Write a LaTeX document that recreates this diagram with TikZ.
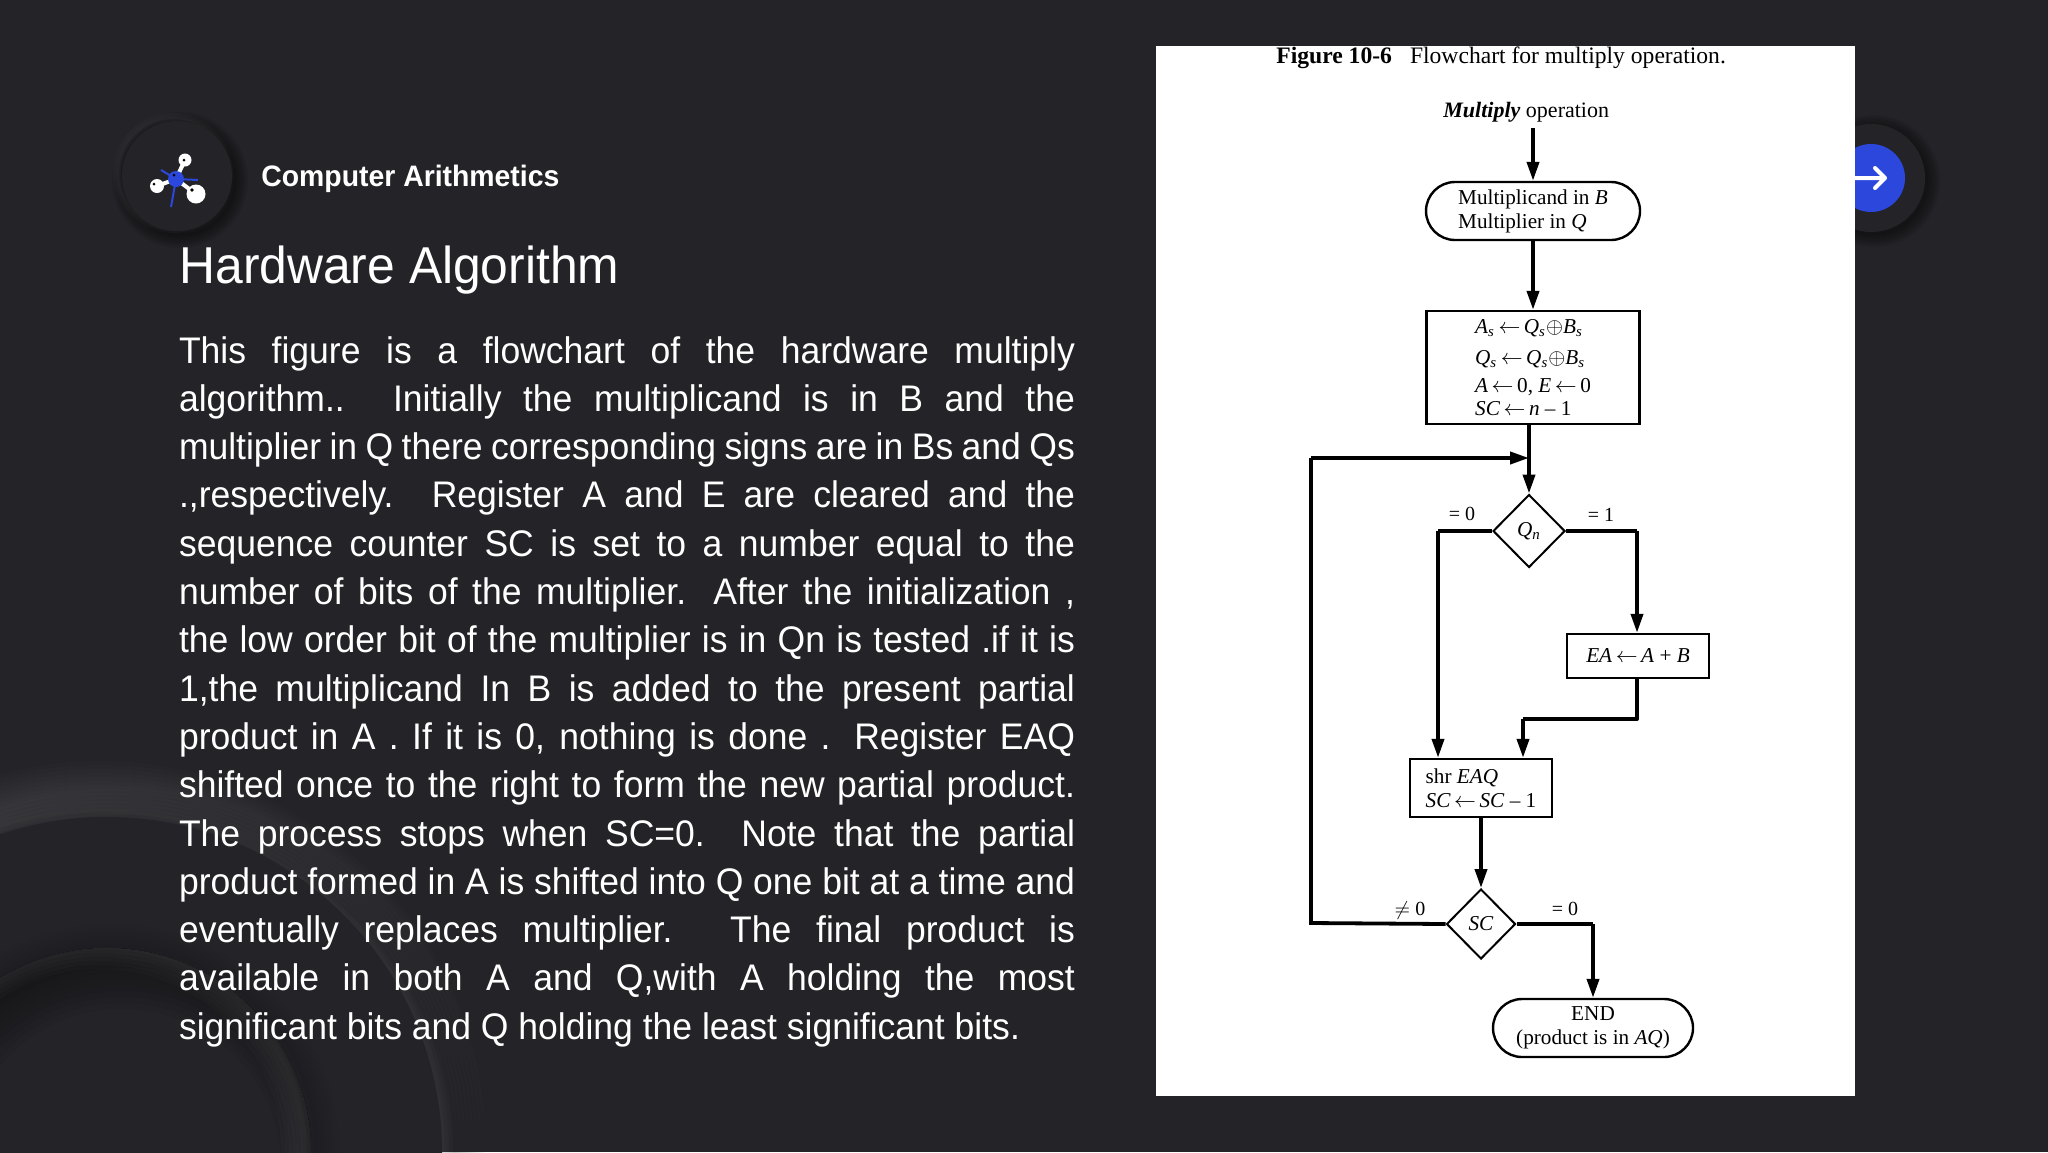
\documentclass[tikz,border=0pt]{standalone}
\usepackage{fontspec}
\usetikzlibrary{shapes.geometric,shapes.misc,arrows.meta}
\setmainfont{Liberation Serif}
\newfontfamily\bodyf[FakeStretch=0.96]{Liberation Sans}
\definecolor{bgc}{HTML}{242327}
\definecolor{bluec}{HTML}{2B47DC}
\tikzset{
  boxn/.style={draw=black,line width=1.2pt,fill=white,inner sep=0pt,align=left,font=\fontsize{10.6}{12}\selectfont},
  termn/.style={boxn,rounded rectangle,rounded rectangle arc length=180},
  decn/.style={draw=black,line width=1pt,fill=white,diamond,aspect=1,inner sep=0pt,font=\fontsize{10.6}{12}\selectfont},
  flow/.style={line width=1.9pt,-{Stealth[length=9.5pt,width=6pt,inset=0pt]}},
  plain/.style={line width=1.9pt},
  lab/.style={anchor=base,inner sep=0pt,font=\fontsize{10}{12}\selectfont},
  line/.style={anchor=base west,inner sep=0pt,text=white,font=\bodyf\fontsize{18.5}{22}\selectfont}
}
\newcommand{\la}{\,$\leftarrow$\,}
\newcommand{\sbs}{$_{\mathit{s}}$}
\begin{document}
\begin{tikzpicture}[x=0.5pt,y=-0.5pt]
\useasboundingbox (0,0) rectangle (2048,1152);
\fill[bgc] (0,0) rectangle (2048,1152);
% background shapes
\begin{scope}
\clip (0,700) rectangle (700,1152);
\foreach \w in {4,12,...,100}{\draw[white,opacity=0.011,line width=\w*0.5pt] (100,1146) circle[radius=335];}
\foreach \w in {4,12,...,60}{\draw[black,opacity=0.03,line width=\w*0.5pt] (120,1156) circle[radius=335];}
\fill[bgc] (107,1152) circle[radius=335];
\begin{scope}
\clip (107,1152) circle[radius=204];
\foreach \w in {6,18,...,90}{\draw[black,opacity=0.035,line width=\w*0.5pt] (122,1168) circle[radius=204];}
\foreach \w in {6,14,...,50}{\draw[white,opacity=0.015,line width=\w*0.5pt] (100,1150) circle[radius=204];}
\end{scope}
\foreach \w in {4,12,...,44}{\draw[black,opacity=0.02,line width=\w*0.5pt] (111,1152) circle[radius=206];}
\end{scope}
% icon disc
\foreach \w in {2,6,...,26}{\draw[black,opacity=0.07,line width=\w*0.5pt] (180,180) circle[radius=55];}
\foreach \w in {2,6,...,10}{\draw[white,opacity=0.02,line width=\w*0.5pt] (173,173) circle[radius=55];}
\fill[bgc] (177,176) circle[radius=55];
\draw[white,line width=2pt] (176,179)--(185,160) (176,179)--(157,186) (176,179)--(196,194);
\draw[bluec,line width=1pt] (176,179)--(161,170) (176,179)--(198,180) (176,179)--(171,207);
\fill[bluec] (176,179) circle[radius=8];
\fill[white] (185,160) circle[radius=6.5] (157,186) circle[radius=7] (196,194) circle[radius=9.5];
\fill[black] (174,175) circle[radius=1.5] (184,160) circle[radius=1.5] (154,184) circle[radius=1.5] (192,190) circle[radius=1.8];
% next button
\foreach \w in {2,6,...,26}{\draw[black,opacity=0.07,line width=\w*0.5pt] (1874,181) circle[radius=53];}
\fill[bgc] (1871,178) circle[radius=54];
\fill[bluec] (1871,178) circle[radius=34];
\draw[white,line width=2pt,line cap=round,line join=round] (1840,178)--(1884,178) (1875,168)--(1885,178)--(1875,188);
% heading and text
\node[anchor=base west,inner sep=0pt,text=white] (hd) at (261,186) {\resizebox{149pt}{!}{\bodyf\bfseries\fontsize{14}{16}\selectfont Computer Arithmetics}};
\node[anchor=base west,inner sep=0pt,text=white] (ttl) at (179,283) {\resizebox{220pt}{!}{\bodyf\fontsize{24}{28}\selectfont Hardware Algorithm}};
\foreach \t [count=\i] in {
{This figure is a flowchart of the hardware multiply},
{algorithm.. Initially the multiplicand is in B and the},
{multiplier in Q there corresponding signs are in Bs and Qs},
{.,respectively. Register A and E are cleared and the},
{sequence counter SC is set to a number equal to the},
{number of bits of the multiplier. After the initialization ,},
{the low order bit of the multiplier is in Qn is tested .if it is},
{1,the multiplicand In B is added to the present partial},
{product in A . If it is 0, nothing is done . Register EAQ},
{shifted once to the right to form the new partial product.},
{The process stops when SC=0. Note that the partial},
{product formed in A is shifted into Q one bit at a time and},
{eventually replaces multiplier. The final product is},
{available in both A and Q,with A holding the most}}{
  \node[line] (l\i) at (178.6,{363+48.3*(\i-1)}) {\makebox[448pt][s]{\t}};
}
\node[line] (l15) at (178.6,1039) {\makebox[420.5pt][s]{significant bits and Q holding the least significant bits.}};
% panel
\fill[white] (1156,46) rectangle (1855,1096);
% flowchart
\node[anchor=base west,inner sep=0pt,font=\fontsize{11.8}{14}\selectfont] (cap) at (1276,63) {\textbf{Figure 10-6}\hspace{9pt}Flowchart for multiply operation.};
\node[anchor=base west,inner sep=0pt,font=\fontsize{11}{14}\selectfont] (st) at (1443,117) {\textbf{\textit{Multiply}} operation};
\coordinate (in) at (1533,128);
\node[termn,minimum width=107pt,minimum height=29pt] (t1) at (1533,211) {Multiplicand in \textit{B}\\Multiplier in \textit{Q}};
\node[boxn,minimum width=106.5pt,minimum height=56.5pt] (b1) at (1533,367.5) {\textit{A}\sbs\la\textit{Q}\sbs$\oplus$\textit{B}\sbs\\[3.5pt]\textit{Q}\sbs\la\textit{Q}\sbs$\oplus$\textit{B}\sbs\\[2pt]\textit{A}\la 0, \textit{E}\la 0\\[-0.5pt]\textit{SC}\la\textit{n} -- 1};
\node[decn,minimum width=36pt,minimum height=36.5pt] (q) at (1529,531) {\textit{Q}$_{\mathit{n}}$};
\coordinate (j) at (1529,458);
\coordinate (lft) at (1311,458);
\coordinate (lfb) at (1311,923);
\coordinate (ql) at (1438,531);
\coordinate (qr) at (1637,531);
\node[boxn,minimum width=71pt,minimum height=22pt] (b2) at (1638,656) {\textit{EA}\la\textit{A} + \textit{B}};
\node[boxn,minimum width=71pt,minimum height=29pt] (b3) at (1481,788) {shr \textit{EAQ}\\\textit{SC}\la\textit{SC} -- 1};
\coordinate (m1) at (1637,719);
\coordinate (m2) at (1523,719);
\node[decn,minimum width=34.5pt,minimum height=35pt] (s) at (1481,924) {\textit{SC}};
\coordinate (sr) at (1593,924);
\node[termn,minimum width=100pt,minimum height=29pt,align=center] (t2) at (1593,1028) {END\\(product is in \textit{AQ})};
\draw[flow] (in) -- (t1.north -| in);
\draw[flow] (t1.south) -- (t1.south |- b1.north);
\draw[flow] (q.north |- b1.south) -- (q.north);
\draw[plain] (s.west) -- (lfb) -- (lft);
\draw[flow] (lft) -- (j);
\draw[plain] (q.west) -- (ql);
\draw[flow] (ql) -- (ql |- b3.north);
\draw[plain] (q.east) -- (qr);
\draw[flow] (qr) -- (qr |- b2.north);
\draw[plain,line join=round] (qr |- b2.south) -- (m1) -- (m2);
\draw[flow] (m2) -- (m2 |- b3.north);
\draw[flow] (s.north |- b3.south) -- (s.north);
\draw[plain] (s.east) -- (sr);
\draw[flow] (sr) -- (t2.north);
\node[lab] (e0) at (1462,520) {= 0};
\node[lab] (e1) at (1601,521) {= 1};
\node[lab] (ne) at (1410,915) {$\neq$ 0};
\node[lab] (e2) at (1565,915) {= 0};
\end{tikzpicture}
\end{document}
